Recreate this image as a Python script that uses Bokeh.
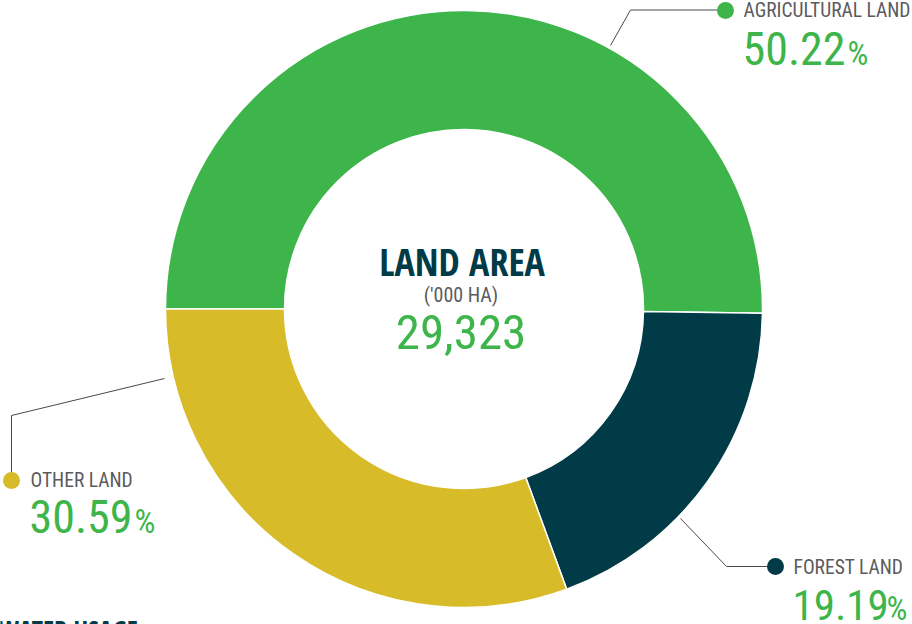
import numpy as np
from bokeh.plotting import figure
from bokeh.models import Range1d, ColumnDataSource
from bokeh.core.properties import value
from bokeh.embed import file_html
from bokeh.resources import INLINE

categories = ["AGRICULTURAL LAND", "FOREST LAND", "OTHER LAND"]
shares = [50.22, 19.19, 30.59]
colors = ["#3db54a", "#013b47", "#d8bb29"]
pct_labels = ["50.22", "19.19", "30.59"]
center_title = "LAND AREA"
center_unit = "('000 HA)"
total_label = "29,323"
next_section = "WATER USAGE"

W, H = 912, 624
FONT = "Roboto Condensed"
BOLD = "Open Sans Condensed"
GREEN = "#3db54a"
TEAL = "#013b47"
GRAY = "#5b5b5d"
K = 0.37  # baseline correction factor for the SVG text renderer


def by(baseline, size):
    """page baseline -> data y"""
    return -(baseline - K * size)


p = figure(width=W, height=H, output_backend="svg", toolbar_location=None,
           x_range=Range1d(0, W), y_range=Range1d(-H, 0), min_border=0)
p.axis.visible = False
p.grid.visible = False
p.outline_line_color = None
p.background_fill_color = "white"

cx, cy = 463.5, -308.5
r_out, r_in = 298.5, 179.5

fr = np.array(shares) / sum(shares)
cum = np.concatenate([[0], np.cumsum(fr)])
start = np.pi - cum[1:] * 2 * np.pi
end = np.pi - cum[:-1] * 2 * np.pi
src = ColumnDataSource(dict(start=start, end=end, color=colors, cat=categories))
p.annular_wedge(x=cx, y=cy, inner_radius=r_in, outer_radius=r_out,
                start_angle="start", end_angle="end", color="color",
                line_color="white", line_width=1.5, source=src)

# leader lines (page coords; y negated for data space)
leaders = [
    ([610, 630, 725], [45, 9.5, 9.5]),
    ([680, 726, 775], [518, 566, 566]),
    ([164, 11, 11], [378, 415, 480]),
]
for xs, ys in leaders:
    p.line(xs, [-y for y in ys], line_color="#4a4a4a", line_width=1)

dots_x = [725, 775, 11]
dots_y = [10, 566, 480]
p.scatter(dots_x, [-y for y in dots_y], size=17, color=colors, line_color=None)

LS, SS = 19.5, 33
pct_sizes = [46, 43, 46]
lab_x = [743, 793, 30]
lab_y = [17.5, 574, 487]
pct_y = [65, 620, 533]
pct_sign_x = [847, 886, 134]
for i in range(3):
    PS = pct_sizes[i]
    p.text(x=lab_x[i], y=by(lab_y[i], LS), text=[categories[i]], text_font=value(FONT),
           text_font_size=f"{LS}px", text_color=GRAY, text_baseline="alphabetic")
    p.text(x=lab_x[i] - 1, y=by(pct_y[i], PS), text=[pct_labels[i]], text_font=value(FONT),
           text_font_size=f"{PS}px", text_color=GREEN, text_baseline="alphabetic")
    p.text(x=pct_sign_x[i], y=by(pct_y[i], SS), text=["%"], text_font=value(FONT),
           text_font_size=f"{SS}px", text_color=GREEN, text_baseline="alphabetic")

p.text(x=cx - 2, y=by(275, 38), text=[center_title], text_font=value(BOLD),
       text_font_size="38px", text_color=TEAL, text_align="center",
       text_baseline="alphabetic")
p.text(x=cx - 3, y=by(302, 20), text=[center_unit], text_font=value(FONT),
       text_font_size="20px", text_color=GRAY, text_align="center",
       text_baseline="alphabetic")
p.text(x=cx - 3, y=by(350, 49), text=[total_label], text_font=value(FONT),
       text_font_size="49px", text_color=GREEN, text_align="center",
       text_baseline="alphabetic")

p.text(x=-2, y=by(639, 26), text=[next_section], text_font=value(BOLD),
       text_font_size="26px", text_color=TEAL, text_baseline="alphabetic")

open("out.html", "w").write(file_html(p, INLINE))
